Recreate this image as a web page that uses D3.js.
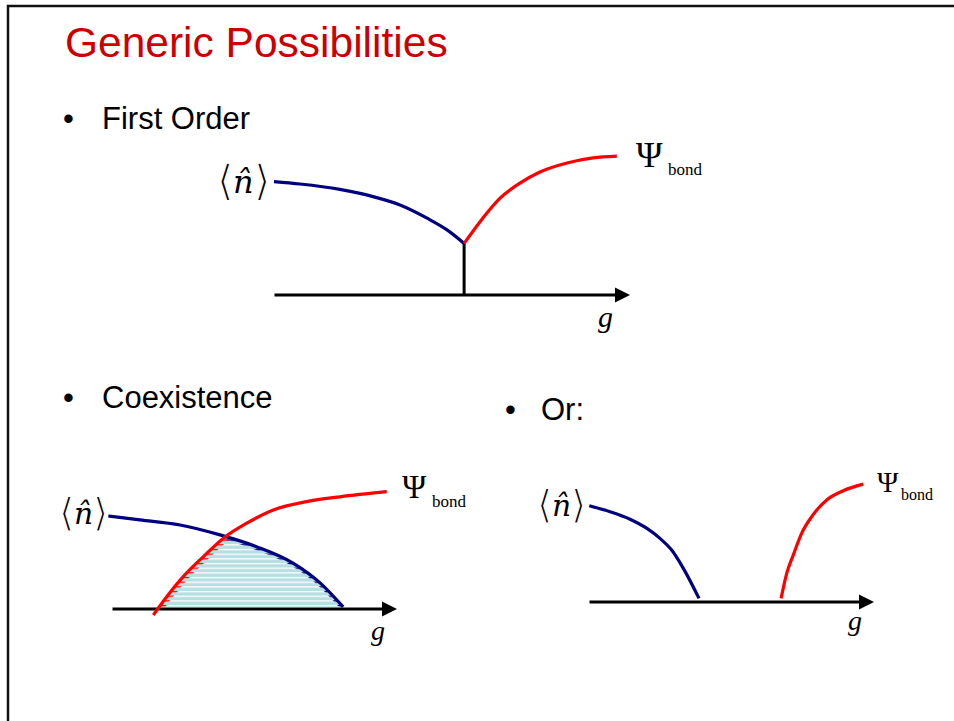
<!DOCTYPE html>
<html>
<head>
<meta charset="utf-8">
<script src="https://cdn.jsdelivr.net/npm/d3@7"></script>
<style>
  body { margin: 0; background: #fff; }
  svg { display: block; }
</style>
</head>
<body>
<svg id="slide" width="954" height="721"></svg>
<script>
// Curves, as [g, value] pairs (g axis 0..10, value 0..5)
const firstOrderDensity = [[0, 3.78], [0.73, 3.70], [1.85, 3.52], [2.78, 3.28], [3.54, 3.00], [4.30, 2.56], [4.86, 2.17], [5.34, 1.72]];
const firstOrderBond = [[5.34, 1.72], [5.87, 2.57], [6.35, 3.23], [6.91, 3.73], [7.47, 4.10], [8.23, 4.40], [8.96, 4.57], [9.63, 4.63]];
const firstOrderJump = 5.34;

const coexDensity = [[-0.13, 3.10], [0.98, 2.97], [2.39, 2.80], [3.79, 2.47], [5.09, 2.07], [6.35, 1.53], [7.30, 0.87], [8.11, 0.07]];
const coexBond = [[1.45, -0.20], [1.92, 0.41], [2.50, 1.08], [3.20, 1.74], [3.91, 2.36], [4.73, 2.86], [5.66, 3.30], [6.83, 3.58], [8.00, 3.74], [9.64, 3.91]];

const orDensity = [[0.01, 3.21], [0.74, 3.01], [1.44, 2.76], [2.02, 2.46], [2.49, 2.12], [2.90, 1.73], [3.31, 1.12], [3.86, 0.12]];
const orBond = [[6.74, 0.12], [6.94, 0.96], [7.17, 1.57], [7.46, 2.29], [7.81, 2.84], [8.34, 3.40], [8.92, 3.71], [9.62, 3.93]];

const bullets = [
    { text: "First Order", x: 63, tx: 102, y: 129 },
    { text: "Coexistence", x: 63, tx: 102, y: 408 },
    { text: "Or:", x: 505, tx: 541, y: 420 }
];

const NAVY = "#000080", RED = "#ff0000";
const serif = "'Liberation Serif','Times New Roman',serif";
const sans = "'Liberation Sans',Arial,sans-serif";

const svg = d3.select("#slide");
const defs = svg.append("defs");

// horizontal hatching: light blue bands with white rows
function rowPattern(id, bg, row) {
    const pat = defs.append("pattern")
        .attr("id", id)
        .attr("patternUnits", "userSpaceOnUse")
        .attr("width", 20).attr("height", 4.67)
        .attr("y", 2.5);
    if (bg) pat.append("rect").attr("width", 20).attr("height", 4.67).attr("fill", bg);
    pat.append("rect").attr("width", 20).attr("height", 1.3).attr("fill", row);
}
rowPattern("stripes", "#b6dfe2", "#fff");
rowPattern("redRows", null, RED);
rowPattern("navyRows", null, NAVY);

// slide frame (top and left only)
svg.append("path")
    .attr("d", "M8,954V6H954")
    .attr("fill", "none")
    .attr("stroke", "#111")
    .attr("stroke-width", 2.5);

// title
svg.append("text")
    .attr("x", 65).attr("y", 57)
    .attr("font-family", sans)
    .attr("font-size", 42.5)
    .attr("fill", "#cc0000")
    .text("Generic Possibilities");

bullets.forEach(b => {
    const t = svg.append("text")
        .attr("x", b.x).attr("y", b.y)
        .attr("font-family", sans)
        .attr("font-size", 31)
        .attr("fill", "#000");
    t.append("tspan").text("•");
    t.append("tspan").attr("x", b.tx).text(b.text);
});

function makePanel(range, axisY, top) {
    const x = d3.scaleLinear().domain([0, 10]).range(range);
    const y = d3.scaleLinear().domain([0, 5]).range([axisY, top]);
    return { x, y, g: svg.append("g") };
}

function drawAxis(p) {
    const [r0, r1] = p.x.range();
    // axis line stops short of the arrow tip, the arrowhead finishes it
    const lineScale = p.x.copy().range([r0, r1 - 12]);
    const ax = p.g.append("g")
        .attr("transform", `translate(0,${p.y(0) - 0.5})`)
        .call(d3.axisBottom(lineScale).ticks(0).tickSizeOuter(0));
    ax.select(".domain").attr("stroke", "#000").attr("stroke-width", 3);
    p.g.append("path")
        .attr("d", `M${r1 - 15},${p.y(0) - 7.5}L${r1},${p.y(0)}L${r1 - 15},${p.y(0) + 7.5}Z`)
        .attr("fill", "#000");
}

function lineFor(p) {
    return d3.line()
        .x(d => p.x(d[0]))
        .y(d => p.y(d[1]))
        .curve(d3.curveMonotoneX);
}

function drawCurve(p, data, color) {
    return p.g.append("path")
        .attr("d", lineFor(p)(data))
        .attr("fill", "none")
        .attr("stroke", color)
        .attr("stroke-width", 3.2);
}

// <n̂> in one text; the brackets are tall and thinned with a white outline
function densityLabel(p, x, y, s) {
    const t = p.g.append("g")
        .attr("transform", `translate(${x},${y}) scale(${s})`)
        .append("text")
        .attr("font-family", serif);
    const bracket = (ch, bx) => t.append("tspan")
        .attr("x", bx).attr("y", 2)
        .attr("font-size", 42)
        .attr("stroke", "#fff")
        .attr("stroke-width", 1.3)
        .text(ch);
    bracket("⟨", -1);
    t.append("tspan").attr("x", 15).attr("y", 0)
        .attr("font-family", "'DejaVu Serif'")
        .attr("font-size", 32).attr("font-style", "italic").text("n̂");
    bracket("⟩", 36);
}

function bondLabel(p, x, y, size, bx, by, subSize) {
    const t = p.g.append("text")
        .attr("x", x).attr("y", y)
        .attr("font-family", serif)
        .attr("font-size", size);
    t.append("tspan").text("Ψ");
    t.append("tspan").attr("x", bx).attr("y", by)
        .attr("font-size", subSize)
        .text("bond");
}

function gLabel(p, x, y, size) {
    p.g.append("text")
        .attr("x", x).attr("y", y)
        .attr("font-family", serif)
        .attr("font-style", "italic")
        .attr("font-size", size)
        .text("g");
}

// ---- First order
const p1 = makePanel([274, 630], 295, 145);
drawAxis(p1);
p1.g.append("line")
    .attr("x1", p1.x(firstOrderJump)).attr("x2", p1.x(firstOrderJump))
    .attr("y1", p1.y(0)).attr("y2", p1.y(firstOrderDensity[firstOrderDensity.length - 1][1]))
    .attr("stroke", "#000").attr("stroke-width", 3);
drawCurve(p1, firstOrderDensity, NAVY);
drawCurve(p1, firstOrderBond, RED);
densityLabel(p1, 218, 193, 1);
bondLabel(p1, 636, 167, 36, 668, 175, 17);
gLabel(p1, 598, 327, 30);

// ---- Coexistence
const p2 = makePanel([112, 397], 609, 459);
const area = data => d3.area()
    .x(d => p2.x(d[0]))
    .y0(p2.y(0) - 1.5)
    .y1(d => p2.y(d[1]))
    .curve(d3.curveMonotoneX)(data);
defs.append("clipPath").attr("id", "underDensity").append("path").attr("d", area(coexDensity));
defs.append("clipPath").attr("id", "underBond").append("path").attr("d", area(coexBond));
const nearCurve = (id, data, w) => defs.append("mask")
    .attr("id", id)
    .attr("maskUnits", "userSpaceOnUse")
    .attr("x", 0).attr("y", 0).attr("width", 954).attr("height", 721)
    .append("path")
    .attr("d", lineFor(p2)(data))
    .attr("fill", "none")
    .attr("stroke", "#fff")
    .attr("stroke-width", w);
nearCurve("nearBond", coexBond, 10);
nearCurve("nearDensity", coexDensity, 6.5);

const shade = p2.g.append("g")
    .attr("clip-path", "url(#underDensity)")
    .append("g")
    .attr("clip-path", "url(#underBond)");
const box = sel => sel
    .attr("x", p2.x(0)).attr("y", p2.y(5))
    .attr("width", p2.x(10) - p2.x(0)).attr("height", p2.y(0) - p2.y(5));
shade.append("rect").call(box).attr("fill", "url(#stripes)");
shade.append("rect").call(box).attr("fill", "url(#redRows)").attr("mask", "url(#nearBond)");
shade.append("rect").call(box).attr("fill", "url(#navyRows)").attr("mask", "url(#nearDensity)");

drawAxis(p2);
drawCurve(p2, coexDensity, NAVY);
drawCurve(p2, coexBond, RED);
densityLabel(p2, 60, 524, 0.93);
bondLabel(p2, 402, 498, 33, 432, 507, 17);
gLabel(p2, 371, 640, 28);

// ---- Or
const p3 = makePanel([589, 874], 602, 452);
drawAxis(p3);
drawCurve(p3, orDensity, NAVY);
drawCurve(p3, orBond, RED);
densityLabel(p3, 538, 516, 0.93);
bondLabel(p3, 877, 492, 29, 901, 500, 16);
gLabel(p3, 848, 630, 28);
</script>
</body>
</html>
